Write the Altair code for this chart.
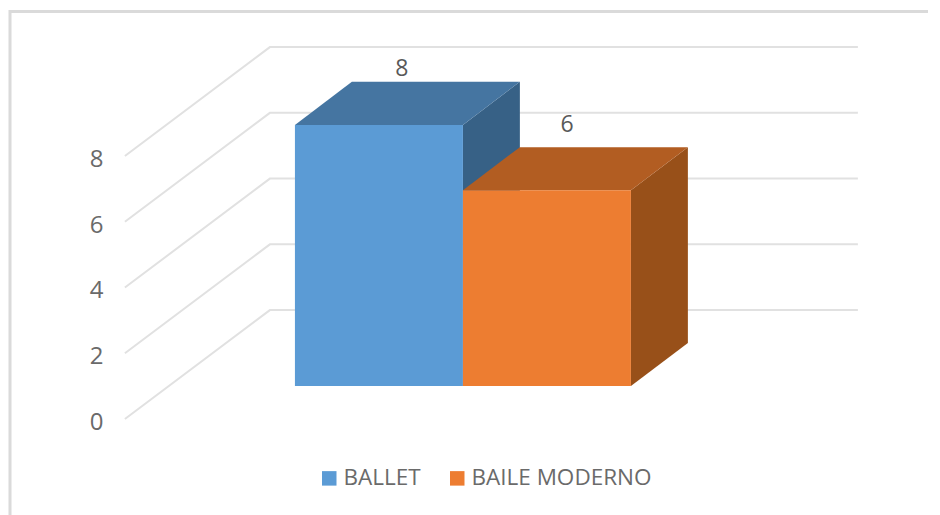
import altair as alt
import pandas as pd

categories = ["BALLET", "BAILE MODERNO"]
values = [8, 6]
starts = [1, 2]
ticks = [0, 2, 4, 6, 8]
label_x = [1.637, 2.62]
label_heights = [10.52, 8.82]

front_colors = ["#5B9BD5", "#ED7D31"]
top_colors = ["#4575A1", "#B25D22"]
side_colors = ["#376186", "#985019"]

BAR_W = 1.0
BASE = 0.88
V_SCALE = 0.993
DX, DY = 0.339, 1.31
WALL_DX, WALL_DY = 0.851, 3.19
FRONT_DX, FRONT_DY = -0.012, -0.122
GRID_END = 4.351

W, H = 918, 507
xs = alt.Scale(domain=[-0.696, -0.696 + W / 168], nice=False, zero=False)
ys = alt.Scale(domain=[12.38 - H / 32.875, 12.38], nice=False, zero=False)

front, side, top, labels, grid = [], [], [], [], []
for c, v, s, lx, lh in zip(categories, values, starts, label_x, label_heights):
    t = BASE + v * V_SCALE
    r = s + BAR_W
    front.append(dict(serie=c, x=s, x2=r, y=BASE, y2=t))
    side += [dict(serie=c, x=r, y=BASE, y2=t), dict(serie=c, x=r + DX, y=BASE + DY, y2=t + DY)]
    top += [dict(serie=c, y=t, x=s, x2=r), dict(serie=c, y=t + DY, x=s + DX, x2=r + DX)]
    labels.append(dict(x=lx, y=lh, v=v))
for k in ticks:
    grid += [dict(k=k, o=0, x=FRONT_DX, y=k + FRONT_DY), dict(k=k, o=1, x=WALL_DX, y=k + WALL_DY), dict(k=k, o=2, x=GRID_END, y=k + WALL_DY)]

axis_y = alt.Axis(values=ticks, offset=-95, labelPadding=2, domain=False, ticks=False, grid=False,
                  title=None, labelFontSize=24, labelColor="#6A6A6A", labelFont="Open Sans",
                  labelOffset=7.5, format="d", labelOverlap=False, labelFlush=False)
X = alt.X("x:Q", scale=xs, axis=None)
Y = alt.Y("y:Q", scale=ys, axis=axis_y)

grid_layer = alt.Chart(pd.DataFrame(grid)).mark_line(color="#E1E1E1", strokeWidth=2).encode(
    x=X, y=Y, detail="k:N", order="o:Q")

side_layer = alt.Chart(pd.DataFrame(side)).mark_area(opacity=1).encode(
    x=X, y=Y, y2="y2:Q",
    color=alt.Color("serie:N", scale=alt.Scale(domain=categories, range=side_colors), legend=None))

top_layer = alt.Chart(pd.DataFrame(top)).mark_area(orient="horizontal", opacity=1).encode(
    y=Y, x=X, x2="x2:Q",
    color=alt.Color("serie:N", scale=alt.Scale(domain=categories, range=top_colors), legend=None))

front_layer = alt.Chart(pd.DataFrame(front)).mark_rect(opacity=1).encode(
    x=X, x2="x2:Q", y=Y, y2="y2:Q",
    color=alt.Color("serie:N", scale=alt.Scale(domain=categories, range=front_colors),
                    legend=alt.Legend(orient="none", legendX=308, legendY=459, direction="horizontal", title=None,
                                      symbolType="square", symbolSize=210, symbolStrokeWidth=0, labelFontSize=22.5,
                                      labelFont="Open Sans", labelColor="#6A6A6A", columnPadding=25, labelOffset=3,
                                      labelLimit=300, values=categories)))

text_layer = alt.Chart(pd.DataFrame(labels)).mark_text(fontSize=23, font="Open Sans", color="#595959", baseline="middle").encode(
    x=X, y=Y, text=alt.Text("v:Q", format="d"))

frame_h = alt.Chart(pd.DataFrame({"a": [0]})).mark_rule(color="#DADADA", strokeWidth=3).encode(
    x=alt.value(0), x2=alt.value(W), y=alt.value(3.5))
frame_v = alt.Chart(pd.DataFrame({"a": [0]})).mark_rule(color="#DADADA", strokeWidth=3).encode(
    y=alt.value(2), y2=alt.value(H), x=alt.value(0))

chart = alt.layer(frame_h, frame_v, grid_layer, side_layer, top_layer, front_layer, text_layer).resolve_scale(
    color="independent"
).properties(width=W, height=H, padding=0, background="#FFFFFF").configure_view(stroke=None)

chart.save("out.html", embed_options={"renderer": "svg", "actions": False})
